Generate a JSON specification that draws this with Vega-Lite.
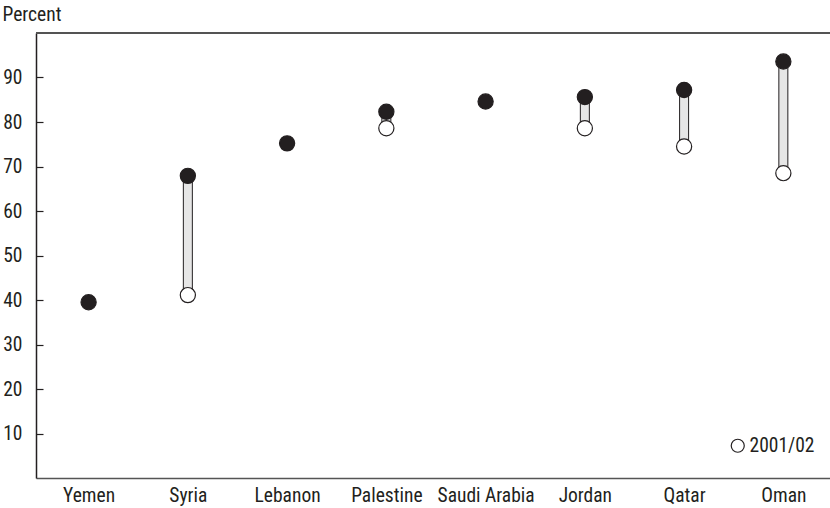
{
  "$schema": "https://vega.github.io/schema/vega-lite/v6.json",
  "width": 794,
  "height": 445,
  "autosize": {"type": "none"},
  "padding": {"left": 36, "top": 33, "right": 0, "bottom": 30},
  "background": "white",
  "config": {
    "view": {"stroke": null},
    "font": "Roboto Condensed, Roboto, sans-serif",
    "axis": {"labelColor": "#231f20", "titleColor": "#231f20", "labelFontSize": 19.5, "grid": false}
  },
  "data": {
    "values": [
      {"country": "Syria", "series": "2001/02", "value": 41.1},
      {"country": "Palestine", "series": "2001/02", "value": 78.6},
      {"country": "Jordan", "series": "2001/02", "value": 78.6},
      {"country": "Qatar", "series": "2001/02", "value": 74.5},
      {"country": "Oman", "series": "2001/02", "value": 68.5},
      {"country": "Yemen", "series": "Latest", "value": 39.5},
      {"country": "Syria", "series": "Latest", "value": 67.9},
      {"country": "Lebanon", "series": "Latest", "value": 75.2},
      {"country": "Palestine", "series": "Latest", "value": 82.3},
      {"country": "Saudi Arabia", "series": "Latest", "value": 84.6},
      {"country": "Jordan", "series": "Latest", "value": 85.6},
      {"country": "Qatar", "series": "Latest", "value": 87.2},
      {"country": "Oman", "series": "Latest", "value": 93.6}
    ]
  },
  "layer": [
    {
      "mark": {"type": "rule", "color": "#555555", "strokeWidth": 1.5},
      "encoding": {"y": {"datum": 100, "type": "quantitative"}}
    },
    {
      "transform": [
        {"pivot": "series", "value": "value", "groupby": ["country"]},
        {"filter": "isValid(datum['2001/02']) && isValid(datum['Latest'])"}
      ],
      "mark": {"type": "bar", "width": 9, "fill": "#e6e6e6", "stroke": "#231f20", "strokeWidth": 1},
      "encoding": {
        "x": {
          "field": "country", "type": "nominal",
          "sort": ["Yemen", "Syria", "Lebanon", "Palestine", "Saudi Arabia", "Jordan", "Qatar", "Oman"]
        },
        "y": {"field": "2001/02", "type": "quantitative"},
        "y2": {"field": "Latest"}
      }
    },
    {
      "mark": {"type": "point", "shape": "circle", "size": 230, "stroke": "#231f20", "strokeWidth": 1.2, "opacity": 1, "filled": false},
      "encoding": {
        "x": {
          "field": "country", "type": "nominal",
          "sort": ["Yemen", "Syria", "Lebanon", "Palestine", "Saudi Arabia", "Jordan", "Qatar", "Oman"],
          "scale": {"type": "point", "padding": 0.5, "align": 0.53},
          "axis": {"title": null, "ticks": false, "labelAngle": 0, "labelAlign": "center", "labelBaseline": "top", "labelPadding": 8, "domainColor": "#555555", "domainWidth": 1.5}
        },
        "y": {
          "field": "value", "type": "quantitative",
          "scale": {"domain": [0, 100], "nice": false},
          "axis": {
            "values": [10, 20, 30, 40, 50, 60, 70, 80, 90],
            "tickSize": -7, "tickColor": "#231f20", "tickWidth": 1.2,
            "labelPadding": 21,
            "domainColor": "#231f20", "domainWidth": 1.5,
            "title": "Percent", "titleAngle": 0, "titleAlign": "left", "titleBaseline": "alphabetic",
            "titleX": -34, "titleY": -12.5, "titleFontSize": 19.5, "titleFontWeight": "normal"
          }
        },
        "fill": {
          "field": "series", "type": "nominal",
          "scale": {"domain": ["2001/02", "Latest"], "range": ["#ffffff", "#231f20"]},
          "legend": {
            "values": ["2001/02"], "title": null, "orient": "none",
            "legendX": 692, "legendY": 403, "padding": 0,
            "symbolType": "circle", "symbolSize": 170, "symbolStrokeColor": "#231f20", "symbolStrokeWidth": 1.2,
            "labelFontSize": 19.5, "labelColor": "#231f20", "labelOffset": 2
          }
        }
      }
    }
  ]
}
